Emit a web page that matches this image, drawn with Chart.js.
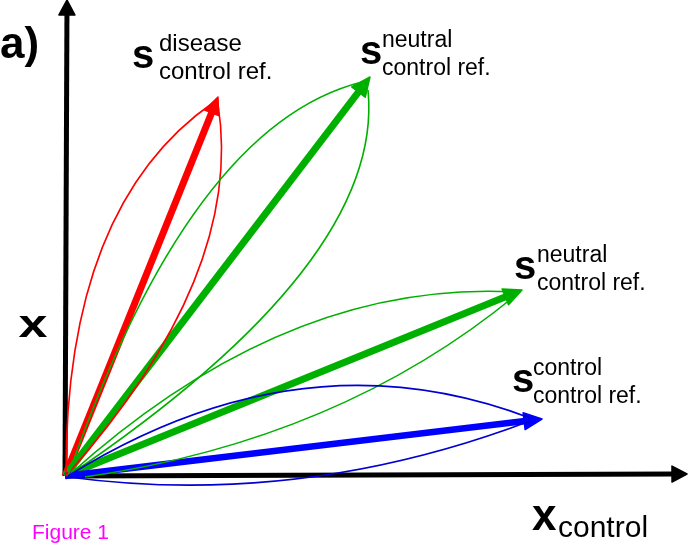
<!DOCTYPE html>
<html>
<head>
<meta charset="utf-8">
<script src="https://cdn.jsdelivr.net/npm/chart.js@4.4.1/dist/chart.umd.min.js"></script>
<style>
  body { margin: 0; background: #fff; overflow: hidden; }
  canvas { display: block; }
</style>
</head>
<body>
<canvas id="chart" width="688" height="544"></canvas>
<script>
// vectors: tip of each one, origin is the corner of the axes
const vectorNames = ['disease', 'neutral', 'neutral', 'control'];
const vectorSub = 'control ref.';
const tipX = [153, 305, 457, 477];
const tipY = [379, 399, 186, 57];

// axis ends
const axisX = [[0, 0], [622, 2]];
const axisY = [[0, 0], [2, 476]];

// thin arcs around each vector: start, bend point, end
const redLeft = [[1, 0], [0, 271], [149, 374]];
const redRight = [[1, 0], [180, 201], [153, 372]];
const greenTopLeft = [[3, 0], [125, 351], [297, 394]];
const greenTopRight = [[3, 0], [320, 214], [303, 386]];
const greenLowUpper = [[3, 0], [220, 196], [449, 184]];
const greenLowLower = [[20, -1], [275, 36], [451, 181]];
const blueUpper = [[3, 0], [236, 145], [465, 58]];
const blueLower = [[3, -1], [235, -32], [465, 55]];

const RED = '#ff0000';
const GREEN = '#00b000';
const BLUE = '#0000ff';
const BLUE_THIN = '#0000d0';
const FONT = '"Liberation Sans", Arial, Helvetica, sans-serif';

function pts(list) {
  return list.map(p => ({ x: p[0], y: p[1] }));
}

function arc(list, color) {
  return {
    data: pts(list),
    showLine: false,
    pointRadius: 0,
    bend: { color: color, width: 1.6 }
  };
}

function arrowSet(list, color, width, len, half) {
  return {
    data: pts(list),
    showLine: false,
    pointRadius: 0,
    arrow: { color: color, width: width, len: len, half: half }
  };
}

const vectorColors = [RED, GREEN, GREEN, BLUE];
const vectorStyle = [[7, 17, 7.5], [7, 19, 8.5], [7, 18, 8.5], [6.5, 18, 8.5]];

const datasets = [
  arc(redLeft, RED),
  arc(redRight, RED),
  arc(greenTopLeft, GREEN),
  arc(greenTopRight, GREEN),
  arc(greenLowUpper, GREEN),
  arc(greenLowLower, GREEN),
  arc(blueUpper, BLUE_THIN),
  arc(blueLower, BLUE_THIN)
];
tipX.forEach((tx, i) => {
  const s = vectorStyle[i];
  datasets.push(arrowSet([[0, 0], [tx, tipY[i]]], vectorColors[i], s[0], s[1], s[2]));
});
const axisSets = [arrowSet(axisX, '#000', 5, 15, 8), arrowSet(axisY, '#000', 5, 15, 8)];
axisSets.forEach(a => { a.isAxis = true; datasets.push(a); });

function drawArrow(ctx, p0, p1, st) {
  const dx = p1.x - p0.x, dy = p1.y - p0.y;
  const d = Math.hypot(dx, dy);
  const ux = dx / d, uy = dy / d;
  const bx = p1.x - ux * st.len, by = p1.y - uy * st.len;
  ctx.save();
  ctx.strokeStyle = st.color;
  ctx.fillStyle = st.color;
  ctx.lineWidth = st.width;
  ctx.lineCap = 'butt';
  ctx.beginPath();
  ctx.moveTo(p0.x, p0.y);
  ctx.lineTo(bx + ux * 3, by + uy * 3);
  ctx.stroke();
  ctx.lineWidth = 1.5;
  ctx.lineJoin = 'round';
  ctx.beginPath();
  ctx.moveTo(p1.x, p1.y);
  ctx.lineTo(bx - uy * st.half, by + ux * st.half);
  ctx.lineTo(bx + uy * st.half, by - ux * st.half);
  ctx.closePath();
  ctx.fill();
  ctx.stroke();
  ctx.restore();
}

function drawArrows(chart, axes) {
  chart.data.datasets.forEach((ds, i) => {
    if (!ds.arrow || !!ds.isAxis !== axes) return;
    const el = chart.getDatasetMeta(i).data;
    drawArrow(chart.ctx, el[0], el[el.length - 1], ds.arrow);
  });
}

function drawArcs(chart) {
  const ctx = chart.ctx;
  chart.data.datasets.forEach((ds, i) => {
    if (!ds.bend) return;
    const el = chart.getDatasetMeta(i).data;
    ctx.save();
    ctx.strokeStyle = ds.bend.color;
    ctx.lineWidth = ds.bend.width;
    ctx.beginPath();
    ctx.moveTo(el[0].x, el[0].y);
    ctx.quadraticCurveTo(el[1].x, el[1].y, el[2].x, el[2].y);
    ctx.stroke();
    ctx.restore();
  });
}

// label placement relative to each tip: s x, text x, subscript baseline
const labelOffsets = [[-86, -59, -18], [-10, 12, -2], [-8, 15, 0], [-30, -9, -16]];
const labelSizes = [24, 23, 23, 23];

const figurePlugin = {
  id: 'figure',
  beforeDatasetsDraw(chart) { drawArrows(chart, true); },
  afterDatasetsDraw(chart) {
    drawArrows(chart, false);
    drawArcs(chart);
  },
  afterDraw(chart) {
    const ctx = chart.ctx;
    const sx = chart.scales.x, sy = chart.scales.y;
    ctx.save();
    ctx.fillStyle = '#000';
    ctx.textBaseline = 'alphabetic';
    ctx.textAlign = 'left';

    vectorNames.forEach((name, i) => {
      const px = sx.getPixelForValue(tipX[i]);
      const py = sy.getPixelForValue(tipY[i]);
      const o = labelOffsets[i];
      const base = py + o[2];
      ctx.font = 'bold 40px ' + FONT;
      ctx.fillText('s', px + o[0], base - 11);
      ctx.font = labelSizes[i] + 'px ' + FONT;
      ctx.fillText(name, px + o[1], base - 28);
      ctx.fillText(vectorSub, px + o[1], base);
    });

    ctx.font = 'bold 44px ' + FONT;
    ctx.fillText('a)', 0, 58);

    // axis names
    ctx.save();
    ctx.translate(33, 337);
    ctx.scale(1.3, 0.95);
    ctx.font = 'bold 40px ' + FONT;
    ctx.textAlign = 'center';
    ctx.fillText('x', 0, 0);
    ctx.restore();

    ctx.font = 'bold 44px ' + FONT;
    ctx.fillText('x', 532, 530);
    ctx.font = '30px ' + FONT;
    ctx.fillText('control', 558, 537);

    ctx.fillStyle = '#ff00ff';
    ctx.font = '21px ' + FONT;
    ctx.fillText('Figure 1', 32, 539);
    ctx.restore();
  }
};

new Chart(document.getElementById('chart').getContext('2d'), {
  type: 'line',
  data: { datasets: datasets },
  options: {
    responsive: false,
    animation: false,
    layout: { padding: 0 },
    plugins: { legend: { display: false }, tooltip: { enabled: false } },
    scales: {
      x: { type: 'linear', display: false, min: -65, max: 623 },
      y: { type: 'linear', display: false, min: -68, max: 476 }
    }
  },
  plugins: [figurePlugin]
});
</script>
</body>
</html>
